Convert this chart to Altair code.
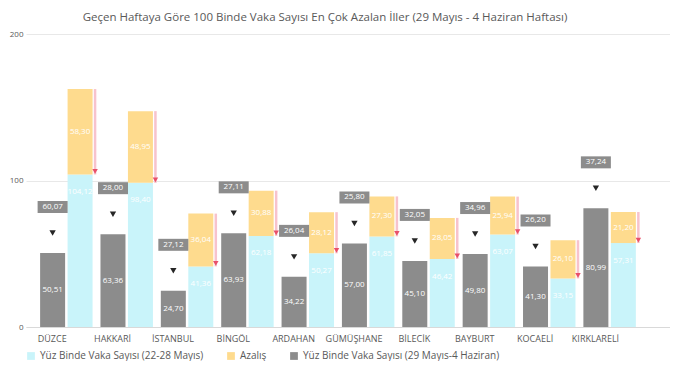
import json
import altair as alt
import pandas as pd

# ---- data ----
iller = ["DÜZCE", "HAKKARİ", "İSTANBUL", "BİNGÖL", "ARDAHAN",
         "GÜMÜŞHANE", "BİLECİK", "BAYBURT", "KOCAELİ", "KIRKLARELİ"]
onceki_hafta = [104.12, 98.40, 41.36, 62.18, 50.27, 61.85, 46.42, 63.07, 33.15, 57.31]   # cyan part
azalis_cubuk = [58.30, 48.95, 36.04, 30.88, 28.12, 27.30, 28.05, 25.94, 26.10, 21.20]  # yellow part
bu_hafta = [50.51, 63.36, 24.70, 63.93, 34.22, 57.00, 45.10, 49.80, 41.30, 80.99]      # grey bars
azalis_etiket = [60.07, 28.00, 27.12, 27.11, 26.04, 25.80, 32.05, 34.96, 26.20, 37.24]  # grey boxes

S_ONCEKI = "Yüz Binde Vaka Sayısı (22-28 Mayıs)"
S_AZALIS = "Azalış"
S_BU = "Yüz Binde Vaka Sayısı (29 Mayıs-4 Haziran)"

rows = []
for i, il in enumerate(iller):
    k = i + 1
    rows.append(dict(il=il, k=k, seri=S_ONCEKI, deger=onceki_hafta[i], sira=0, grp="c"))
    rows.append(dict(il=il, k=k, seri=S_AZALIS, deger=azalis_cubuk[i], sira=1, grp="c"))
    rows.append(dict(il=il, k=k, seri=S_BU, deger=bu_hafta[i], sira=0, grp="g"))
bars = pd.DataFrame(rows)

wide = pd.DataFrame(dict(il=iller, k=list(range(1, len(iller) + 1)),
                         onceki=onceki_hafta, azc=azalis_cubuk,
                         bu=bu_hafta, aze=azalis_etiket))

GRAY_SHIFT = 0.455
LABEL_SHIFT = 0.47
xscale = alt.Scale(domain=[0.187, 10.69], nice=False, zero=False)
yscale = alt.Scale(domain=[0, 200], nice=False)
names_js = json.dumps(iller, ensure_ascii=False)

xaxis = alt.Axis(values=[k - LABEL_SHIFT for k in range(1, len(iller) + 1)],
                 labelExpr=f"{names_js}[round(datum.value + {LABEL_SHIFT}) - 1]",
                 title=None, grid=False, ticks=False, domain=True, domainColor="#d9d9d9",
                 labelFontSize=9, labelColor="#595959", labelFont="Open Sans",
                 labelPadding=7, labelAngle=0)
yaxis = alt.Axis(values=[0, 100, 200], title=None, grid=True, gridColor="#e8e8e8",
                 domain=False, ticks=False, labelFontSize=8, labelColor="#595959",
                 labelFont="Open Sans", minExtent=18, maxExtent=18, labelPadding=3)

color = alt.Color("seri:N", title=None,
                  scale=alt.Scale(domain=[S_ONCEKI, S_AZALIS, S_BU],
                                  range=["#c9f4fa", "#fedb8e", "#8c8c8c"]),
                  legend=alt.Legend(orient="bottom", direction="horizontal",
                                    symbolType="square", symbolSize=60,
                                    labelFontSize=10, labelColor="#595959",
                                    labelFont="Open Sans", labelLimit=320,
                                    columnPadding=22, offset=8))

base_bars = alt.Chart(bars).transform_calculate(
    xpos=f"datum.grp == 'g' ? datum.k - {GRAY_SHIFT} : datum.k"
)

bar_layer = base_bars.mark_bar(size=25).encode(
    x=alt.X("xpos:Q", scale=xscale, axis=xaxis),
    y=alt.Y("sum(deger):Q", scale=yscale, axis=yaxis, stack="zero"),
    color=color,
    order=alt.Order("sira:Q"),
    detail="grp:N",
)

w = alt.Chart(wide).transform_calculate(
    top="datum.onceki + datum.azc",
    gx=f"datum.k - {GRAY_SHIFT}",
    ymid_y="datum.onceki + datum.azc / 2",
    ymid_c="datum.onceki - 12",
    ymid_g="datum.bu / 2",
    lbl_y="replace(format(datum.azc, '.2f'), '.', ',')",
    lbl_c="replace(format(datum.onceki, '.2f'), '.', ',')",
    lbl_g="replace(format(datum.bu, '.2f'), '.', ',')",
    lbl_a="replace(format(datum.aze, '.2f'), '.', ',')",
)

pink = w.mark_rule(color="#f7c3cd", strokeWidth=2.5, xOffset=15).encode(
    x=alt.X("k:Q", scale=xscale), y=alt.Y("top:Q", scale=yscale), y2="onceki:Q")
pink_tip = w.mark_point(shape="triangle-down", filled=True, size=30, color="#e8506a",
                        opacity=1, xOffset=15, yOffset=-3).encode(
    x=alt.X("k:Q", scale=xscale), y=alt.Y("onceki:Q", scale=yscale))

txt_y = w.mark_text(color="white", fontSize=8, font="Open Sans").encode(
    x=alt.X("k:Q", scale=xscale), y=alt.Y("ymid_y:Q", scale=yscale), text="lbl_y:N")
txt_c = w.mark_text(color="white", fontSize=8, font="Open Sans").encode(
    x=alt.X("k:Q", scale=xscale), y=alt.Y("ymid_c:Q", scale=yscale), text="lbl_c:N")
txt_g = w.mark_text(color="white", fontSize=8, font="Open Sans").encode(
    x=alt.X("gx:Q", scale=xscale), y=alt.Y("ymid_g:Q", scale=yscale), text="lbl_g:N")

arrow = w.mark_point(shape="triangle-down", filled=True, size=40, color="#262626",
                     opacity=1, yOffset=-20).encode(
    x=alt.X("gx:Q", scale=xscale), y=alt.Y("bu:Q", scale=yscale))
box = w.mark_point(shape="M-1.25,-0.5H1.25V0.5H-1.25Z", filled=True, size=576,
                   color="#8c8c8c", opacity=1, yOffset=-46).encode(
    x=alt.X("gx:Q", scale=xscale), y=alt.Y("bu:Q", scale=yscale))
box_txt = w.mark_text(color="white", fontSize=8, font="Open Sans", yOffset=-46,
                      baseline="middle").encode(
    x=alt.X("gx:Q", scale=xscale), y=alt.Y("bu:Q", scale=yscale), text="lbl_a:N")

chart = alt.layer(
    bar_layer, pink, pink_tip, txt_y, txt_c, txt_g, arrow, box, box_txt
).properties(
    width=644, height=293,
    padding={"top": 3, "left": 0, "right": 0, "bottom": 0},
    title=alt.TitleParams(
        "Geçen Haftaya Göre 100 Binde Vaka Sayısı En Çok Azalan İller (29 Mayıs - 4 Haziran Haftası)",
        fontSize=11.5, font="Open Sans", color="#595959", fontWeight="normal",
        offset=7, anchor="middle", dx=-23),
).configure_view(stroke=None)

chart.save("out.html", embed_options={"renderer": "svg", "actions": False})
